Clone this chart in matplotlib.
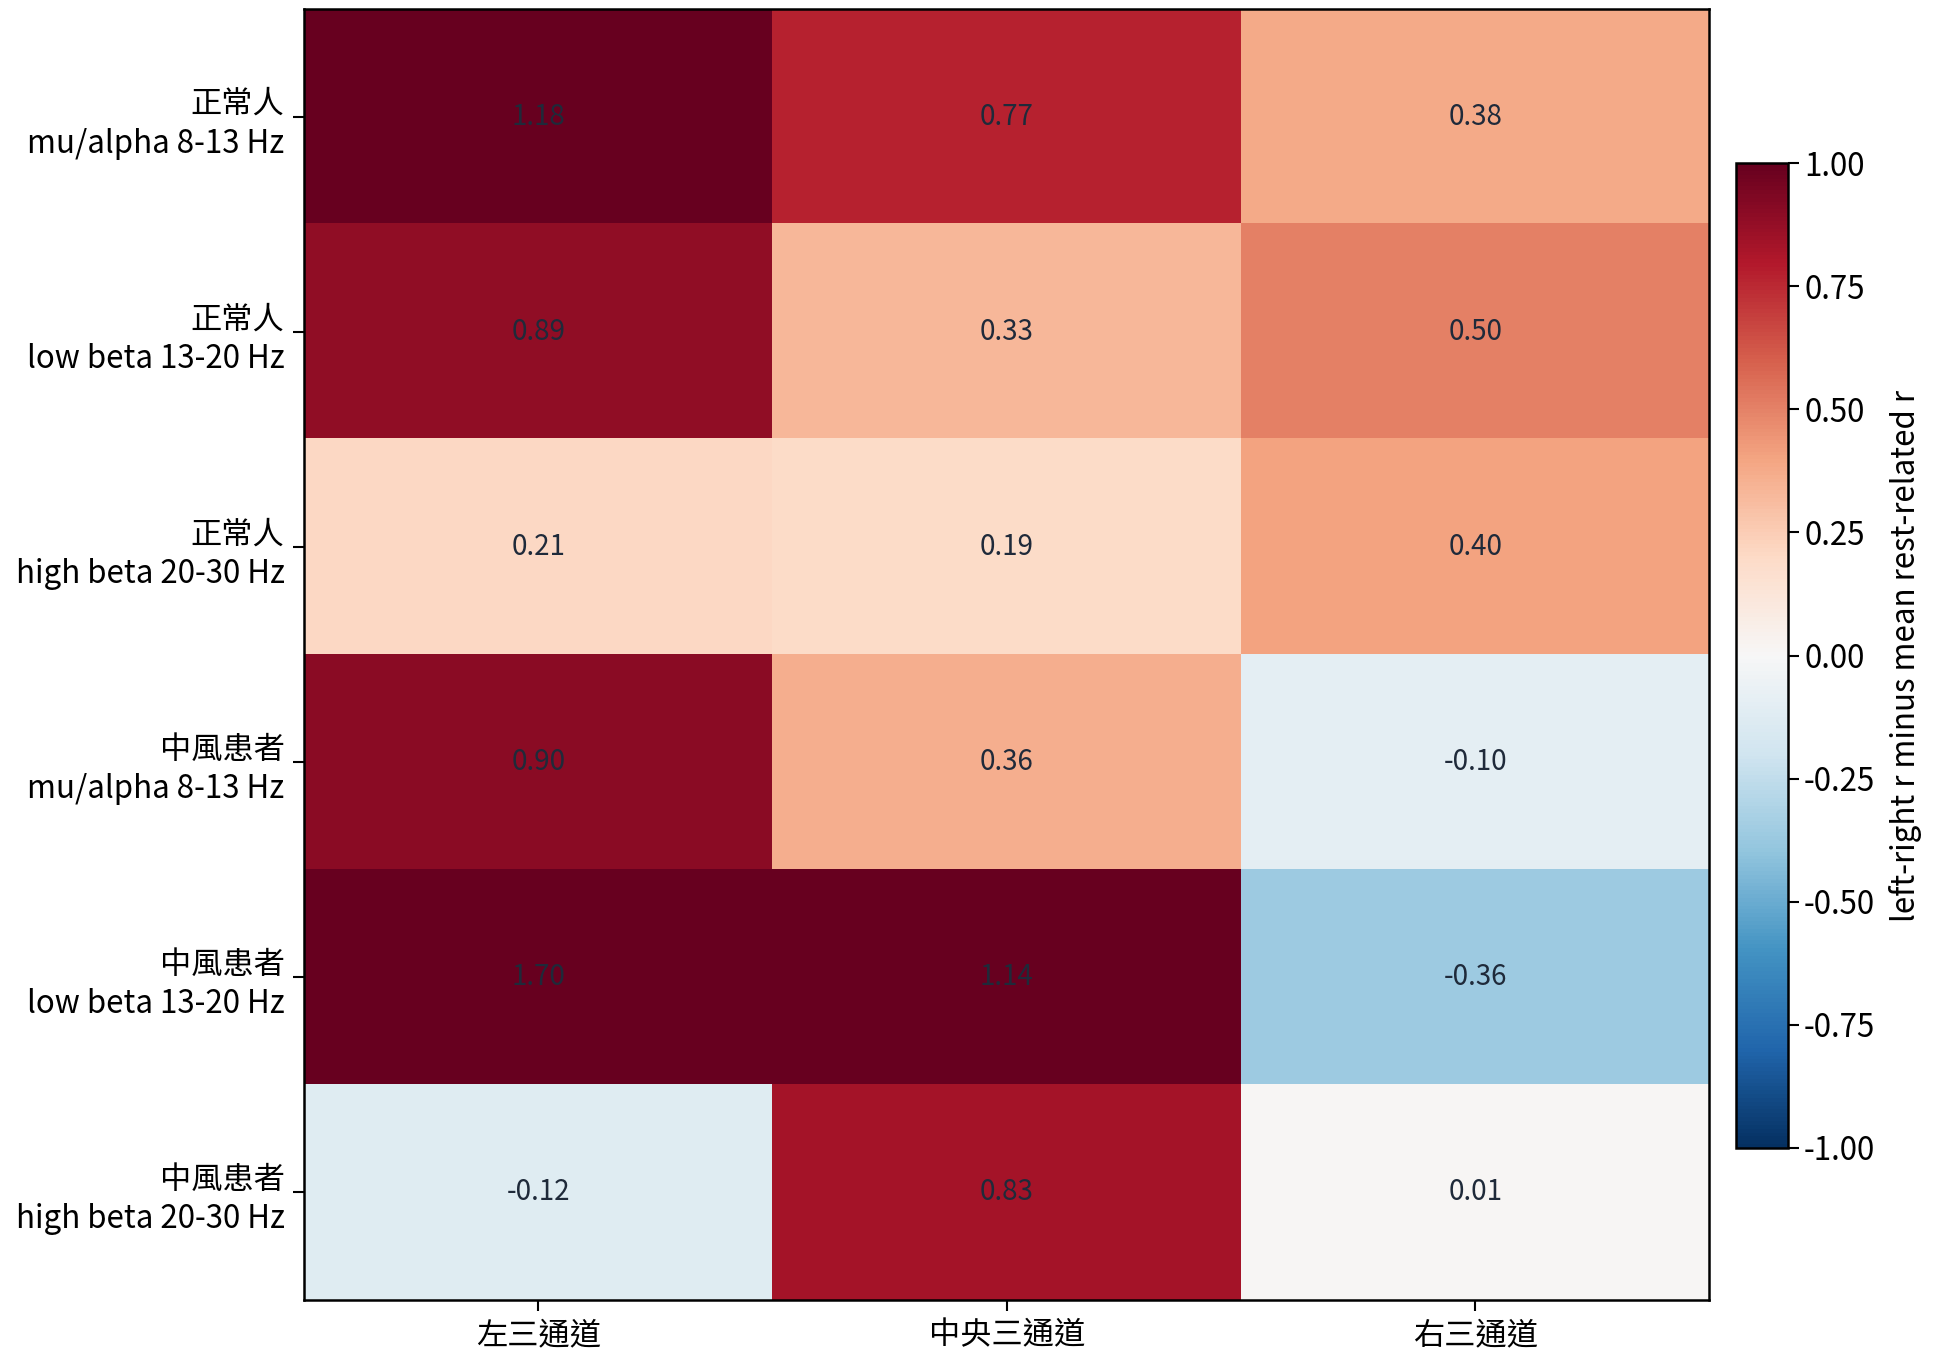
import numpy as np
import matplotlib
matplotlib.use('Agg')
import matplotlib.pyplot as plt

plt.rcParams['font.family'] = ['Noto Sans CJK TC', 'DejaVu Sans']
plt.rcParams['axes.unicode_minus'] = False

# 資料
row_labels = ['正常人\nmu/alpha 8-13 Hz', '正常人\nlow beta 13-20 Hz', '正常人\nhigh beta 20-30 Hz',
              '中風患者\nmu/alpha 8-13 Hz', '中風患者\nlow beta 13-20 Hz', '中風患者\nhigh beta 20-30 Hz']
col_labels = ['左三通道', '中央三通道', '右三通道']
left_vals = [1.18, 0.89, 0.21, 0.90, 1.70, -0.12]
center_vals = [0.77, 0.33, 0.19, 0.36, 1.14, 0.83]
right_vals = [0.38, 0.50, 0.40, -0.10, -0.36, 0.01]

data = np.array([left_vals, center_vals, right_vals]).T

fig = plt.figure(figsize=(19.36, 13.64), dpi=100)
ax = fig.add_axes([0.157, 0.0469, 0.726, 0.9465])
im = ax.imshow(data, cmap='RdBu_r', vmin=-1, vmax=1, aspect='auto', interpolation='nearest')

ax.set_xticks(range(len(col_labels)))
ax.set_xticklabels(col_labels, fontsize=22.5)
ax.set_yticks(range(len(row_labels)))
ax.set_yticklabels(row_labels, fontsize=22.5, linespacing=1.3)
ax.tick_params(length=8, width=1.5, pad=6)
for s in ax.spines.values():
    s.set_linewidth(1.8)

for i in range(data.shape[0]):
    for j in range(data.shape[1]):
        ax.text(j, i, f'{data[i, j]:.2f}', ha='center', va='center', fontsize=20, color='#1f2a3a')

cax = fig.add_axes([0.8967, 0.1584, 0.0269, 0.722])
cb = fig.colorbar(im, cax=cax)
cb.set_ticks([-1, -0.75, -0.5, -0.25, 0, 0.25, 0.5, 0.75, 1])
cb.ax.tick_params(labelsize=22.5, length=8, width=1.5)
cb.outline.set_linewidth(1.8)
cb.set_label('left-right r minus mean rest-related r', fontsize=22.5, labelpad=10)

plt.savefig('out.png', dpi=100)
